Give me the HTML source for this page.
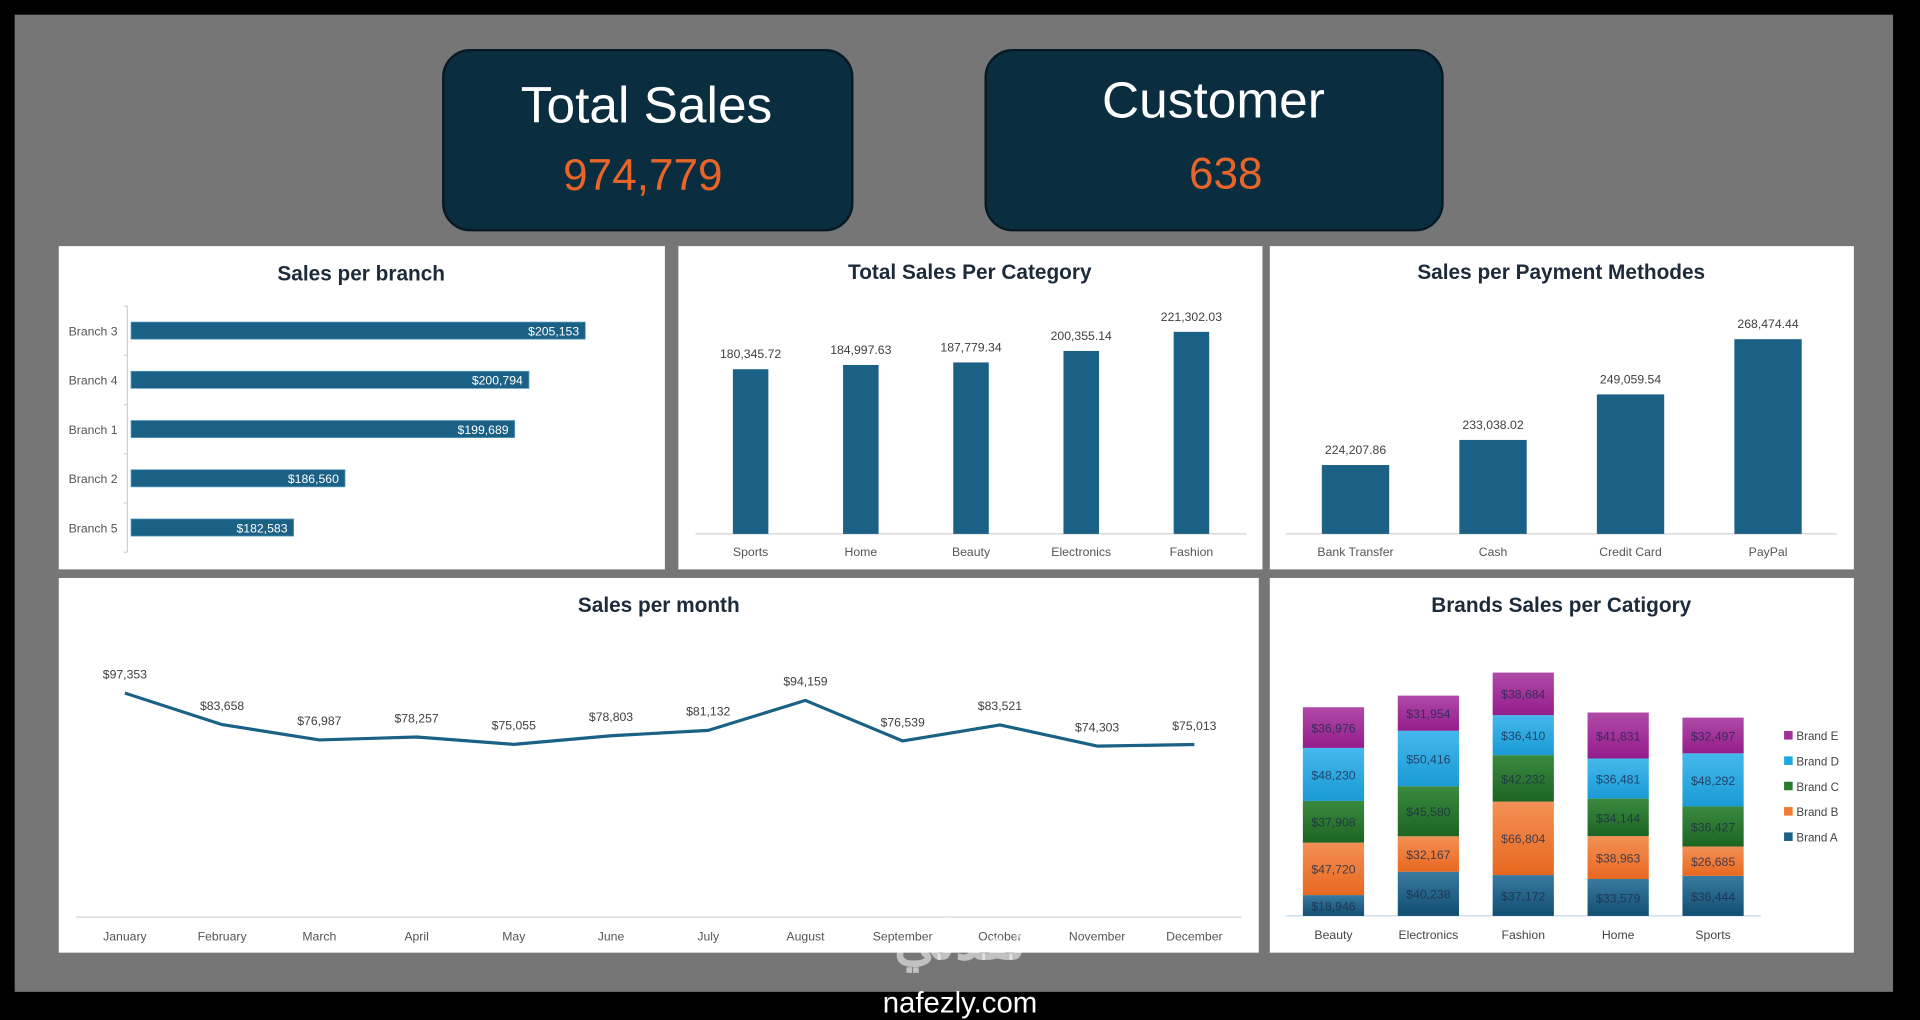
<!DOCTYPE html>
<html><head><meta charset="utf-8"><style>
html,body{margin:0;padding:0;background:#000;width:1920px;height:1020px;overflow:hidden}
svg{display:block}
text{font-family:"Liberation Sans","Noto Sans CJK SC",sans-serif}
</style></head><body>
<svg id="dash" width="1920" height="1020" viewBox="0 0 1568 833" xmlns="http://www.w3.org/2000/svg">
<defs>
<linearGradient id="gA" x1="0" y1="0" x2="0" y2="1"><stop offset="0" stop-color="#3a7aa0"/><stop offset="1" stop-color="#114e72"/></linearGradient>
<linearGradient id="gB" x1="0" y1="0" x2="0" y2="1"><stop offset="0" stop-color="#f39055"/><stop offset="1" stop-color="#e8681f"/></linearGradient>
<linearGradient id="gC" x1="0" y1="0" x2="0" y2="1"><stop offset="0" stop-color="#3a8a3e"/><stop offset="1" stop-color="#1e6424"/></linearGradient>
<linearGradient id="gD" x1="0" y1="0" x2="0" y2="1"><stop offset="0" stop-color="#45b8ec"/><stop offset="1" stop-color="#1a9ad6"/></linearGradient>
<linearGradient id="gE" x1="0" y1="0" x2="0" y2="1"><stop offset="0" stop-color="#b04aa8"/><stop offset="1" stop-color="#941c8c"/></linearGradient>
</defs>
<rect x="0" y="0" width="1568" height="833" fill="#000"/>
<rect x="12" y="12" width="1534" height="798" fill="#767676"/>

<g>
<rect x="362" y="41" width="334" height="147" rx="22" fill="#0b2d40" stroke="#061a26" stroke-width="2"/>
<text x="528" y="100" text-anchor="middle" fill="#fff" font-size="42">Total Sales</text>
<text x="525" y="155" text-anchor="middle" fill="#e8652a" font-size="36">974,779</text>
</g>
<g>
<rect x="805" y="41" width="373" height="147" rx="22" fill="#0b2d40" stroke="#061a26" stroke-width="2"/>
<text x="991" y="96" text-anchor="middle" fill="#fff" font-size="42">Customer</text>
<text x="1001" y="154" text-anchor="middle" fill="#e8652a" font-size="36">638</text>
</g>

<rect x="48" y="201" width="495" height="264" fill="#fff"/>
<rect x="554" y="201" width="477" height="264" fill="#fff"/>
<rect x="1037" y="201" width="477" height="264" fill="#fff"/>
<rect x="48" y="472" width="980" height="306" fill="#fff"/>
<rect x="1037" y="472" width="477" height="306" fill="#fff"/>

<g fill="#1c2a3a" font-weight="bold" font-size="17" text-anchor="middle">
<text x="295" y="229">Sales per  branch</text>
<text x="792" y="228">Total Sales Per Category</text>
<text x="1275" y="228">Sales per Payment Methodes</text>
<text x="538" y="500">Sales per  month</text>
<text x="1275" y="500">Brands Sales per Catigory</text>
</g>

<g id="branchG"></g><g id="catG"></g><g id="payG"></g><g id="monG"></g><g id="brG"></g>

<g>
<text x="784" y="783" text-anchor="middle" fill="#ffffff" fill-opacity="0.55" font-size="44" font-weight="bold" font-family="'Noto Sans CJK SC',sans-serif">نفذلي</text>
<text x="784" y="827" text-anchor="middle" fill="#fff" font-size="24">nafezly.com</text>
</g>
</svg>
<script>
const NS="http://www.w3.org/2000/svg";
function mk(parent,tag,attrs,txt){const e=document.createElementNS(NS,tag);for(const k in attrs)e.setAttribute(k,attrs[k]);if(txt!==undefined)e.textContent=txt;parent.appendChild(e);return e;}
const fmt=v=>v.toLocaleString('en-US');
const fmt2=v=>v.toLocaleString('en-US',{minimumFractionDigits:2,maximumFractionDigits:2});

// Branch data
const branchNames=["Branch 3","Branch 4","Branch 1","Branch 2","Branch 5"];
const branchValues=[205153,200794,199689,186560,182583];
// Category data
const catNames=["Sports","Home","Beauty","Electronics","Fashion"];
const catValues=[180345.72,184997.63,187779.34,200355.14,221302.03];
// Payment data
const payNames=["Bank Transfer","Cash","Credit Card","PayPal"];
const payValues=[224207.86,233038.02,249059.54,268474.44];
// Month data
const months=["January","February","March","April","May","June","July","August","September","October","November","December"];
const monthValues=[97353,83658,76987,78257,75055,78803,81132,94159,76539,83521,74303,75013];
// Brand data
const brandCats=["Beauty","Electronics","Fashion","Home","Sports"];
const brandA=[18946,40238,37172,33579,36444];
const brandB=[47720,32167,66804,38963,26685];
const brandC=[37908,45580,42232,34144,36427];
const brandD=[48230,50416,36410,36481,48292];
const brandE=[36976,31954,38684,41831,32497];
const brandNames=["Brand A","Brand B","Brand C","Brand D","Brand E"];

const BAR="#1a6185";

// Branch horizontal bars
(function(){
 const g=document.getElementById('branchG');
 const x0=107,xMin=170000,k=371/(205153-xMin);
 const xs=v=>x0+(v-xMin)*k;
 const rowY=i=>270+i*40.2;
 const ax=mk(g,'line',{x1:104,y1:250,x2:104,y2:451,stroke:'#d0d0d0'});
 
 for(let i=0;i<=5;i++)mk(g,'line',{x1:101,x2:104,y1:250+i*40.2,y2:250+i*40.2,stroke:'#d0d0d0'});
 branchValues.forEach((v,i)=>{
  const y=rowY(i);
  const r=mk(g,'rect',{x:x0,y:y-7,width:xs(v)-x0,height:14,fill:BAR,stroke:'#5b9fc4','stroke-width':0.6});
  
  
  const t=mk(g,'text',{x:xs(v)-5,y:y+4,'text-anchor':'end',fill:'#fff','font-size':10},'$'+fmt(v));
  
  const l=mk(g,'text',{x:96,y:y+4,'text-anchor':'end',fill:'#555','font-size':10},branchNames[i]);
  
 });
})();

// Vertical bar chart helper
function vbars(gid,names,vals,centers,width,base,yMin,k,axisX1,axisX2,prefix){
 const g=document.getElementById(gid);
 const ax=mk(g,'line',{x1:axisX1,x2:axisX2,y1:base,y2:base,stroke:'#d0d0d0'});
 
 vals.forEach((v,i)=>{
  const h=(v-yMin)*k,cx=centers[i];
  const r=mk(g,'rect',{x:cx-width/2,y:base-h,width:width,height:h,fill:BAR});
  
  
  const t=mk(g,'text',{x:cx,y:base-h-9,'text-anchor':'middle',fill:'#404040','font-size':10},fmt2(v));
  
  const l=mk(g,'text',{x:cx,y:base+18,'text-anchor':'middle',fill:'#555','font-size':10},names[i]);
  
 });
}
vbars('catG',catNames,catValues,catNames.map((_,i)=>613+i*90),29,436,0,165/221302,568,1018,'category');
vbars('payG',payNames,payValues,payNames.map((_,i)=>1107+i*112.3),55,436,200000,159/68474,1050,1500,'payment');

// Month line
(function(){
 const g=document.getElementById('monG');
 const base=749,k=183/97353;
 const xs=i=>102+i*79.4, ys=v=>base-v*k;
 const ax=mk(g,'line',{x1:62,x2:1014,y1:base,y2:base,stroke:'#d0d0d0'});
 
 const pts=monthValues.map((v,i)=>xs(i)+','+ys(v)).join(' ');
 const pl=mk(g,'polyline',{points:pts,fill:'none',stroke:BAR,'stroke-width':2.6,'stroke-linejoin':'round'});
 
 monthValues.forEach((v,i)=>{
  const t=mk(g,'text',{x:xs(i),y:ys(v)-12,'text-anchor':'middle',fill:'#404040','font-size':10},'$'+fmt(v));
  
  const l=mk(g,'text',{x:xs(i),y:base+19,'text-anchor':'middle',fill:'#555','font-size':10},months[i]);
  
 });
})();

// Brands stacked
(function(){
 const g=document.getElementById('brG');
 const base=748,k=0.000898;
 const series=[brandA,brandB,brandC,brandD,brandE];
 const fills=['url(#gA)','url(#gB)','url(#gC)','url(#gD)','url(#gE)'];
 const sw=['#1a6185','#f07a30','#2a7a2e','#1ea8e0','#a0309a'];
 const ax=mk(g,'line',{x1:1050,x2:1438,y1:base,y2:base,stroke:'#c8d8ee'});
 
 brandCats.forEach((c,i)=>{
  const cx=1089+i*77.5;let acc=0;
  series.forEach((s,j)=>{
   const v=s[i],y1=base-(acc+v)*k,h=v*k;
   const r=mk(g,'rect',{x:cx-25,y:y1,width:50,height:h,fill:fills[j]});
   
   
   const t=mk(g,'text',{x:cx,y:y1+h/2+4,'text-anchor':'middle',fill:'#1c2a4a','fill-opacity':0.8,'font-size':10},'$'+fmt(v));
   
   acc+=v;
  });
  const l=mk(g,'text',{x:cx,y:base+19,'text-anchor':'middle',fill:'#444','font-size':10},c);
  
 });
 for(let j=4;j>=0;j--){
  const y=601+(4-j)*20.7;
  const le=mk(g,'g',{});
  
  
  mk(le,'rect',{x:1457,y:y-4,width:7,height:7,fill:sw[j]});
  mk(le,'text',{x:1467,y:y+3.5,fill:'#444','font-size':9.5},brandNames[j]);
 }
})();
</script>
</body></html>
